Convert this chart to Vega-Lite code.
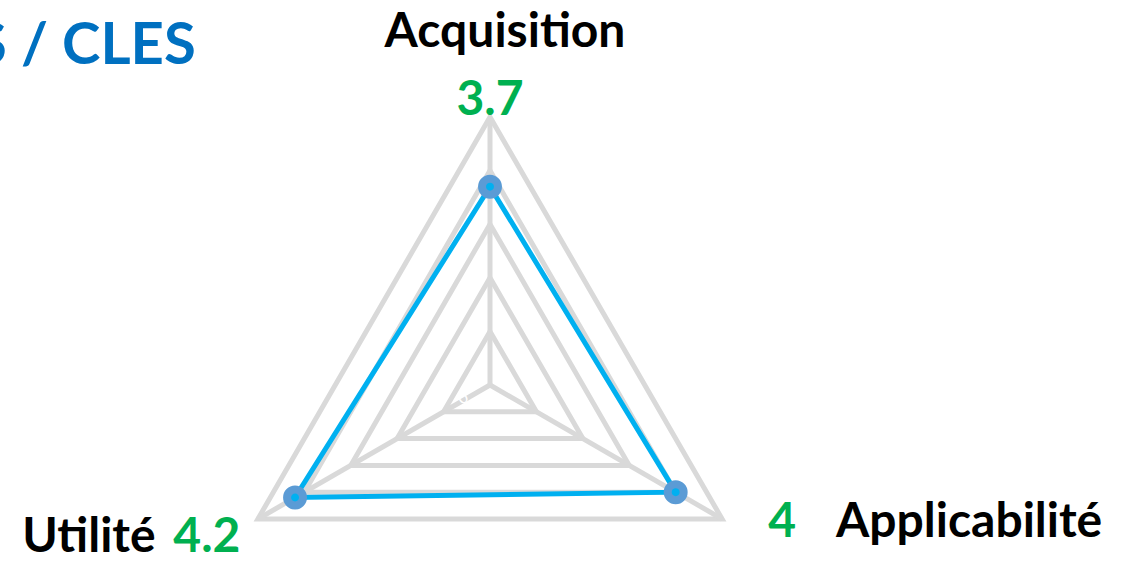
{
  "$schema": "https://vega.github.io/schema/vega-lite/v6.json",
  "width": 1131,
  "height": 561,
  "autosize": {"type": "none"},
  "padding": 0,
  "background": "white",
  "config": {"view": {"stroke": null}},
  "title": {
    "text": "S / CLES",
    "anchor": "start",
    "frame": "group",
    "offset": -76,
    "dx": -25,
    "fontSize": 58,
    "font": "Lato",
    "fontWeight": "bold",
    "color": "#0070C0"
  },
  "datasets": {
    "scores": [
      {"axis": "Acquisition", "k": 0, "value": 3.7},
      {"axis": "Applicabilité", "k": 1, "value": 4},
      {"axis": "Utilité", "k": 2, "value": 4.2}
    ],
    "rings": [
      {"k": 0, "levels": [1, 2, 3, 4, 5]},
      {"k": 1, "levels": [1, 2, 3, 4, 5]},
      {"k": 2, "levels": [1, 2, 3, 4, 5]}
    ],
    "ticks": [
      {"tick": 0}, {"tick": 1}, {"tick": 2}, {"tick": 3}, {"tick": 4}, {"tick": 5}
    ]
  },
  "encoding": {
    "x": {"field": "px", "type": "quantitative", "scale": {"domain": [-9.142, 11.959], "nice": false, "zero": false}, "axis": null},
    "y": {"field": "py", "type": "quantitative", "scale": {"domain": [-3.284, 7.183], "nice": false, "zero": false}, "axis": null}
  },
  "layer": [
    {
      "data": {"name": "rings"},
      "transform": [
        {"flatten": ["levels"], "as": ["level"]},
        {"calculate": "datum.level * sin(datum.k * 2 * PI / 3)", "as": "px"},
        {"calculate": "datum.level * cos(datum.k * 2 * PI / 3)", "as": "py"}
      ],
      "mark": {"type": "line", "interpolate": "linear-closed", "color": "#D9D9D9", "strokeWidth": 5},
      "encoding": {
        "detail": {"field": "level", "type": "nominal"},
        "order": {"field": "k", "type": "quantitative"}
      }
    },
    {
      "data": {"name": "scores"},
      "transform": [
        {"calculate": "5 * sin(datum.k * 2 * PI / 3)", "as": "px"},
        {"calculate": "5 * cos(datum.k * 2 * PI / 3)", "as": "py"}
      ],
      "mark": {"type": "rule", "color": "#D9D9D9", "strokeWidth": 5},
      "encoding": {
        "x2": {"datum": 0},
        "y2": {"datum": 0}
      }
    },
    {
      "data": {"name": "ticks"},
      "transform": [
        {"calculate": "0", "as": "px"},
        {"calculate": "datum.tick", "as": "py"}
      ],
      "mark": {"type": "text", "color": "#FFFFFF", "fontSize": 16, "font": "Lato", "dx": -30, "dy": -2, "angle": 330},
      "encoding": {
        "text": {"field": "tick", "type": "quantitative"}
      }
    },
    {
      "data": {"name": "scores"},
      "transform": [
        {"calculate": "datum.value * sin(datum.k * 2 * PI / 3)", "as": "px"},
        {"calculate": "datum.value * cos(datum.k * 2 * PI / 3)", "as": "py"}
      ],
      "mark": {"type": "line", "interpolate": "linear-closed", "color": "#00B0F0", "strokeWidth": 5},
      "encoding": {
        "order": {"field": "k", "type": "quantitative"}
      }
    },
    {
      "data": {"name": "scores"},
      "transform": [
        {"calculate": "datum.value * sin(datum.k * 2 * PI / 3)", "as": "px"},
        {"calculate": "datum.value * cos(datum.k * 2 * PI / 3)", "as": "py"}
      ],
      "mark": {"type": "point", "shape": "circle", "filled": true, "fill": "#00B0F0", "stroke": "#5B9BD5", "strokeWidth": 8, "size": 254, "opacity": 1},
      "encoding": {}
    },
    {
      "data": {"name": "scores"},
      "transform": [
        {"filter": "datum.k == 0"},
        {"calculate": "5 * sin(datum.k * 2 * PI / 3)", "as": "px"},
        {"calculate": "5 * cos(datum.k * 2 * PI / 3)", "as": "py"}
      ],
      "layer": [
        {
          "mark": {"type": "text", "font": "Lato", "fontWeight": "bold", "fontSize": 48, "color": "#00B050", "align": "center", "baseline": "alphabetic", "dx": 0, "dy": -2},
          "encoding": {"text": {"field": "value", "type": "quantitative", "format": "~g"}}
        },
        {
          "mark": {"type": "text", "font": "Lato", "fontWeight": "bold", "fontSize": 48, "color": "#000000", "align": "center", "baseline": "alphabetic", "dx": 15, "dy": -70},
          "encoding": {"text": {"field": "axis", "type": "nominal"}}
        }
      ]
    },
    {
      "data": {"name": "scores"},
      "transform": [
        {"filter": "datum.k == 1"},
        {"calculate": "5 * sin(datum.k * 2 * PI / 3)", "as": "px"},
        {"calculate": "5 * cos(datum.k * 2 * PI / 3)", "as": "py"}
      ],
      "layer": [
        {
          "mark": {"type": "text", "font": "Lato", "fontWeight": "bold", "fontSize": 48, "color": "#00B050", "align": "center", "baseline": "alphabetic", "dx": 60, "dy": 18},
          "encoding": {"text": {"field": "value", "type": "quantitative", "format": "~g"}}
        },
        {
          "mark": {"type": "text", "font": "Lato", "fontWeight": "bold", "fontSize": 48, "color": "#000000", "align": "center", "baseline": "alphabetic", "dx": 247, "dy": 18},
          "encoding": {"text": {"field": "axis", "type": "nominal"}}
        }
      ]
    },
    {
      "data": {"name": "scores"},
      "transform": [
        {"filter": "datum.k == 2"},
        {"calculate": "5 * sin(datum.k * 2 * PI / 3)", "as": "px"},
        {"calculate": "5 * cos(datum.k * 2 * PI / 3)", "as": "py"}
      ],
      "layer": [
        {
          "mark": {"type": "text", "font": "Lato", "fontWeight": "bold", "fontSize": 48, "color": "#00B050", "align": "center", "baseline": "alphabetic", "dx": -51, "dy": 33},
          "encoding": {"text": {"field": "value", "type": "quantitative", "format": "~g"}}
        },
        {
          "mark": {"type": "text", "font": "Lato", "fontWeight": "bold", "fontSize": 48, "color": "#000000", "align": "center", "baseline": "alphabetic", "dx": -169, "dy": 33},
          "encoding": {"text": {"field": "axis", "type": "nominal"}}
        }
      ]
    }
  ]
}
